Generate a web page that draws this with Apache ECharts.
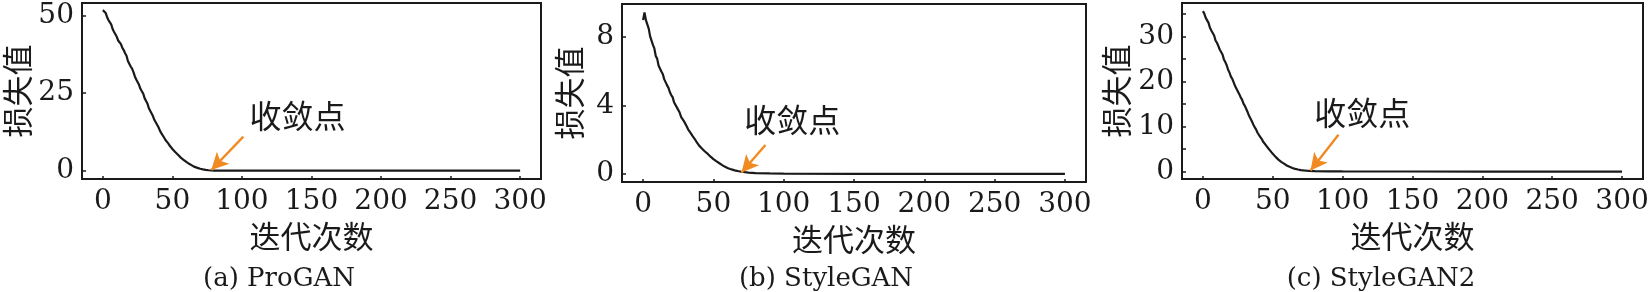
<!DOCTYPE html>
<html>
<head>
<meta charset="utf-8">
<script src="https://cdn.jsdelivr.net/npm/echarts@6/dist/echarts.min.js"></script>
<style>
html,body{margin:0;padding:0;background:#fff;}
#chart{width:1650px;height:292px;}
</style>
</head>
<body>
<div id="chart"></div>
<script>
// ---------- data ----------
const iterA = [0,1,2,3,4,5,6,7,8,9,10,11,12,13,14,15,16,17,18,19,20,21,22,23,24,25,26,27,28,29,30,31,32,33,34,35,36,37,38,39,40,41,42,43,44,45,46,47,48,49,50,52,54,56,58,60,62,64,66,68,70,72,74,76,78,80,90,100,150,200,250,300];
const lossA = [51.8,51.5,50.9,49.6,48.6,48.2,47.2,45.7,44.8,44.3,43.2,42.0,41.5,40.8,39.6,38.9,37.9,37.1,35.4,34.9,33.6,32.9,31.8,30.4,29.4,28.9,27.7,26.4,25.6,24.9,23.4,22.8,21.7,20.2,19.3,18.8,17.6,16.4,15.6,15.0,14.0,12.9,12.1,11.6,10.7,9.9,9.3,8.8,8.1,7.5,7.0,6.0,5.1,4.2,3.5,2.8,2.2,1.7,1.2,0.9,0.6,0.4,0.25,0.12,0.05,0.02,0.01,0,0,0,0,0];

const iterB = [0,1,2,3,4,5,6,7,8,9,10,11,12,13,14,15,16,17,18,19,20,21,22,23,24,25,26,27,28,29,30,31,32,33,34,35,36,37,38,39,40,42,44,46,48,50,52,54,56,58,60,62,64,66,68,70,75,80,90,100,150,200,250,300];
const lossB = [9.0,9.45,9.0,8.75,8.5,8.05,8.1,7.55,7.35,6.9,6.75,6.35,6.45,6.0,5.85,5.55,5.6,5.2,5.05,4.8,4.62,4.5,4.2,4.15,3.9,3.85,3.6,3.35,3.4,3.1,2.95,2.8,2.62,2.55,2.38,2.25,2.15,2.02,1.88,1.78,1.65,1.48,1.32,1.18,1.02,0.88,0.76,0.65,0.54,0.44,0.36,0.3,0.25,0.2,0.17,0.14,0.09,0.06,0.04,0.03,0.02,0.02,0.02,0.02];

const iterC = [0,1,2,3,4,5,6,7,8,9,10,11,12,13,14,15,16,17,18,19,20,21,22,23,24,25,26,27,28,29,30,31,32,33,34,35,36,37,38,39,40,41,42,43,44,45,46,47,48,49,50,52,54,56,58,60,62,64,66,68,70,72,74,76,80,90,100,150,200,250,300];
const lossC = [35.6,35.0,34.1,33.8,33.0,31.9,31.3,30.9,30.2,29.1,28.6,27.9,27.1,26.7,26.0,24.9,24.3,23.6,22.6,22.0,21.1,20.6,19.8,19.0,18.6,17.8,17.2,16.5,16.0,15.1,14.6,13.9,13.2,12.4,11.8,11.2,10.5,9.9,9.4,8.7,8.2,7.8,7.3,6.7,6.3,5.9,5.5,5.1,4.7,4.35,4.0,3.3,2.7,2.2,1.8,1.4,1.1,0.85,0.65,0.5,0.38,0.3,0.24,0.2,0.15,0.1,0.08,0.06,0.05,0.05,0.05];

const xTicks = [0,50,100,150,200,250,300];
const yTicksA = [0,25,50];
const yTicksB = [0,4,8];
const yTicksC = [0,10,20,30];
const yMinorC = [0,5,10,15,20,25,30,35];

const captions = ['(a) ProGAN','(b) StyleGAN','(c) StyleGAN2'];
const xName = '迭代次数';
const yName = '损失值';
const noteText = '收敛点';
// arrow [from, to] and text anchor, in data coordinates
const arrowA = [[101,11],[78,0.2]];
const arrowB = [[87,1.7],[70,0.1]];
const arrowC = [[97,8.2],[77,0.3]];
const noteA = [140,17.7];
const noteB = [106,3.2];
const noteC = [114,13.0];

// ---------- styles ----------
const serif = 'DejaVu Serif';
const cjk = 'Noto Sans CJK SC';
const ink = '#1a1a1a';
const orange = '#F28A22';

const panels = [
  {left:82, top:3, width:459, height:176, ymin:-2.7, ymax:54.1, labels:yTicksA, ticks:yTicksA, gap:49, x:iterA, y:lossA, arrow:arrowA, note:noteA, cap:274},
  {left:622, top:4, width:464, height:178, ymin:-0.46, ymax:9.94, labels:yTicksB, ticks:yTicksB, gap:37, x:iterB, y:lossB, arrow:arrowB, note:noteB, cap:821},
  {left:1182, top:3, width:461, height:176, ymin:-1.6, ymax:37.4, labels:yTicksC, ticks:yMinorC, gap:50, x:iterC, y:lossC, arrow:arrowC, note:noteC, cap:1376}
];

const option = {
  animation:false,
  backgroundColor:'#fff',
  title: panels.map((p,i)=>({
    text:captions[i], left:p.cap, top:261, textAlign:'center',
    textStyle:{fontFamily:serif, fontSize:26, fontWeight:'normal', color:ink}
  })),
  grid: panels.map(p=>({left:p.left, top:p.top, width:p.width, height:p.height, show:true, borderColor:ink, borderWidth:2, backgroundColor:'transparent', containLabel:false, outerBoundsMode:'none'})),
  xAxis: panels.map((p,i)=>({
    type:'value', gridIndex:i, min:-15, max:315,
    name:xName, nameLocation:'middle', nameGap:38,
    nameTextStyle:{fontFamily:cjk, fontSize:31, color:ink},
    axisLine:{show:true, onZero:false, lineStyle:{color:ink, width:2}},
    axisTick:{show:true, inside:true, length:3, customValues:xTicks, lineStyle:{color:ink, width:1.5}},
    axisLabel:{show:true, customValues:xTicks, margin:9, fontFamily:serif, fontSize:28, color:ink},
    splitLine:{show:false}
  })),
  yAxis: panels.map((p,i)=>({
    type:'value', gridIndex:i, min:p.ymin, max:p.ymax,
    name:yName, nameLocation:'middle', nameGap:p.gap, nameRotate:90,
    nameTextStyle:{fontFamily:cjk, fontSize:31, color:ink},
    axisLine:{show:true, onZero:false, lineStyle:{color:ink, width:2}},
    axisTick:{show:true, inside:true, length:4, customValues:p.ticks, lineStyle:{color:ink, width:1.5}},
    axisLabel:{show:true, customValues:p.labels, margin:8, fontFamily:serif, fontSize:28, color:ink},
    splitLine:{show:false}
  })),
  series: panels.map((p,i)=>({
    type:'line', xAxisIndex:i, yAxisIndex:i,
    data:p.x.map((v,k)=>[v,p.y[k]]),
    showSymbol:false, symbol:'none',
    lineStyle:{color:ink, width:2.2},
    markLine:{
      silent:true, animation:false,
      symbol:['none','arrow'], symbolSize:[13,17],
      lineStyle:{color:orange, width:2.4, type:'solid'},
      label:{show:false},
      data:[[{coord:p.arrow[0]},{coord:p.arrow[1]}]]
    },
    markPoint:{
      silent:true, animation:false,
      data:[{coord:p.note, symbol:'circle', symbolSize:1, itemStyle:{color:'rgba(0,0,0,0)'},
        label:{show:true, position:'inside', formatter:noteText, fontFamily:cjk, fontSize:32, color:ink}}]
    }
  }))
};

const chart = echarts.init(document.getElementById('chart'), null, {renderer:'canvas'});
chart.setOption(option);
</script>
</body>
</html>
